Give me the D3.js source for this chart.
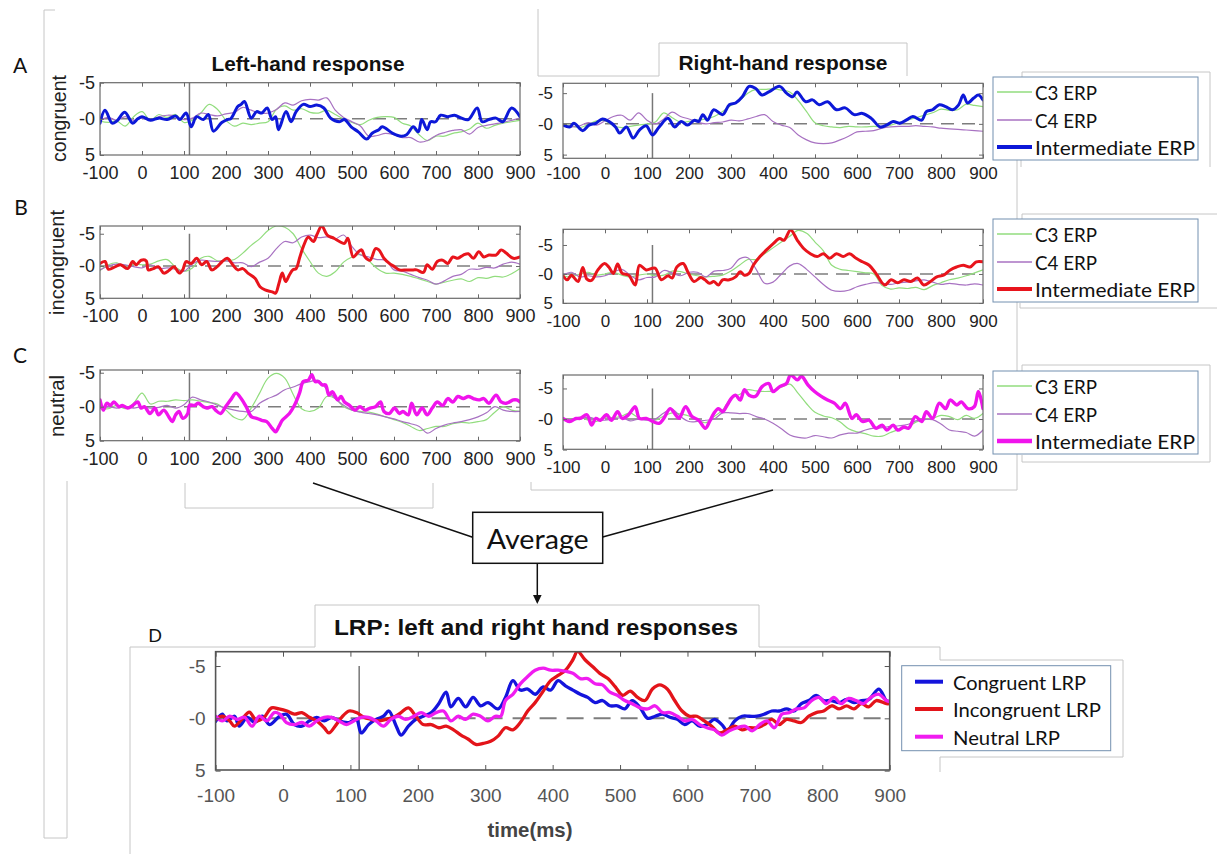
<!DOCTYPE html>
<html>
<head>
<meta charset="utf-8">
<script src="https://cdn.jsdelivr.net/npm/d3@7/dist/d3.min.js"></script>
<style>
 html,body{margin:0;padding:0;background:#fff;}
 svg{display:block;}
</style>
</head>
<body>
<svg id="fig" width="1217" height="854" xmlns="http://www.w3.org/2000/svg"></svg>
<script>
// ================= DATA =================
// sample grid (ms) for the thin C3 / C4 traces
const times = [-100,-80,-60,-40,-20,0,20,40,60,80,
  100,120,140,160,180,200,220,240,260,280,
  300,320,340,360,380,400,420,440,460,480,
  500,520,540,560,580,600,620,640,660,680,
  700,720,740,760,780,800,820,840,860,880,900];
const xTicks = [-100,0,100,200,300,400,500,600,700,800,900];
const yTicks = [-5,0,5];
const yTickLabels = ['-5','-0','5'];
const stimulusMs = 113;
const erpLegendLabels = ['C3 ERP','C4 ERP','Intermediate ERP'];
const lrpLegendLabels = ['Congruent LRP','Incongruent LRP','Neutral LRP'];
const conditionLabels = ['congruent','incongruent','neutral'];
const panelLetters = ['A','B','C','D'];

// ---- A: congruent ----
const aL_C3  = [0.3,0.5,0.3,1.0,-0.3,-1.0,0.2,-0.6,-0.2,-0.6, 0.5,0.2,-0.8,-2.0,-1.3,0.2,1.0,0.6,0.8,0.6, 0.4,-1.3,-1.8,-1.2,-1.4,-0.9,-0.8,-1.2,-0.6,0.0, 0.5,0.8,0.2,-0.2,-0.3,-0.2,0.6,1.0,2.2,3.0, 2.4,2.4,2.0,1.8,1.4,0.6,1.3,0.9,0.6,0.4, 0.2];
const aL_C4  = [0.2,-0.2,0.2,-0.3,0.2,-0.1,0.2,-0.3,-0.5,-0.4, 0.1,-0.1,-0.8,-0.6,-0.4,-0.7,-0.9,-1.6,-1.2,-0.8, -0.8,-1.3,-2.2,-1.9,-2.5,-2.7,-2.6,-2.9,-1.2,-0.2, 0.4,1.0,2.4,2.3,2.0,2.2,2.6,2.6,3.2,3.0, 2.3,1.9,1.6,1.5,2.1,1.2,0.9,0.7,0.5,0.2, -0.1];
// intermediate ERP traces: [ms, µV] pairs
const aL_Int = [[-100,0.6],[-88,-1.2],[-71,0.6],[-60,0.3],[-41,-0.9],[-22,0.6],[-10,0.0],[0,-0.3],[20,0.2],[40,-0.1],[60,0.1],[80,-0.4],[90,0.1],[105,-0.8],[117,1.1],[130,-0.3],[146,0.1],[158,-0.6],[170,1.7],[190,0.5],[203,0.1],[211,0.0],[228,-1.7],[236,-2.0],[244,-2.4],[260,-0.1],[273,-1.0],[285,-0.8],[298,-1.5],[310,0.1],[318,-0.3],[325,1.5],[343,-1.0],[355,0.4],[367,-1.0],[384,-2.0],[400,-1.7],[416,-1.9],[433,-1.5],[449,-0.1],[470,0.4],[482,0.1],[498,1.1],[515,1.8],[535,2.8],[548,2.0],[564,1.5],[572,1.1],[597,2.0],[617,2.4],[630,2.2],[646,1.1],[658,1.8],[666,0.1],[679,1.5],[687,0.4],[699,0.4],[711,-0.5],[728,-0.3],[744,-0.5],[761,-0.1],[777,0.1],[798,-1.5],[810,0.4],[826,0.1],[843,-0.1],[859,0.4],[880,-1.5],[900,-0.3]];
const aR_C3  = [0.1,0.3,0.6,0.1,-0.5,-0.5,0.3,0.6,0.4,0.2, 0.0,-0.3,-1.8,-1.0,-0.3,-0.4,-0.6,-0.8,-1.2,-2.0, -3.0,-3.8,-5.0,-5.6,-5.6,-5.7,-5.5,-5.2,-3.8,-2.0, -0.2,0.3,0.5,0.6,0.4,0.5,0.5,0.4,0.5,0.2, -0.2,-0.6,-1.0,-1.4,-1.8,-2.4,-2.2,-2.3,-3.2,-3.0, -2.8];
const aR_C4  = [0.2,0.5,0.3,-0.2,0.2,-0.5,-1.2,-1.4,-0.6,-1.8, -0.6,0.0,-0.8,-1.9,-1.2,-0.8,-0.3,0.0,-0.2,-0.3, -0.6,-0.5,-0.8,-1.2,-1.5,-0.4,0.2,0.6,1.8,2.6, 3.1,3.2,3.1,2.6,2.0,1.3,1.2,1.1,0.7,0.5, 0.4,0.4,0.3,0.4,0.5,0.7,0.8,0.9,1.0,1.1, 1.2];
const aR_Int = [[-100,0.2],[-84,0.5],[-74,-0.1],[-53,1.1],[-38,0.2],[-22,-0.1],[-6,-0.8],[9,-0.4],[25,0.5],[35,1.5],[51,0.5],[67,2.3],[82,1.0],[98,0.3],[113,1.8],[129,0.5],[150,-0.9],[166,0.5],[181,-0.4],[197,0.2],[213,-0.6],[223,-0.4],[233,-1.5],[244,-0.6],[259,-2.3],[280,-1.5],[296,-3.1],[311,-3.4],[327,-4.4],[343,-6.1],[358,-5.8],[374,-4.7],[390,-5.2],[416,-6.1],[432,-5.0],[447,-4.4],[457,-5.2],[478,-3.6],[494,-3.9],[510,-3.1],[530,-3.6],[551,-2.3],[572,-2.6],[593,-1.5],[613,-1.7],[634,-0.9],[655,0.5],[670,0.2],[686,-0.4],[702,-0.1],[717,-0.6],[733,-1.2],[754,-0.6],[765,-2.0],[780,-2.3],[796,-3.1],[811,-2.8],[827,-2.3],[842,-3.1],[853,-4.7],[863,-3.4],[878,-4.2],[889,-4.7],[900,-3.9]];

// ---- B: incongruent ----
const bL_C3  = [0.7,-0.2,-0.5,0.2,-0.3,-0.2,-0.3,-0.8,-1.0,0.2, 0.8,0.3,-1.2,-1.5,-0.8,-0.8,-1.0,-2.0,-3.2,-4.2, -5.5,-6.2,-6.0,-5.0,-2.7,-0.7,1.1,1.6,0.9,-0.6, -1.4,-1.8,-0.8,0.4,1.1,1.1,1.3,1.6,2.0,2.4, 2.8,2.5,2.2,2.0,2.4,1.8,1.9,1.6,1.7,1.2, 0.4];
const bL_C4  = [0.6,0.0,-0.3,-0.2,0.1,0.3,-0.2,0.4,0.3,0.5, 0.8,-0.3,-0.9,-0.8,-0.7,-0.8,-0.5,-0.5,0.1,-0.6, -1.2,-2.7,-3.8,-3.6,-4.5,-4.8,-4.4,-4.5,-4.2,-4.8, -3.0,-1.7,-1.4,-1.0,-0.9,0.6,0.8,1.3,1.8,2.2, 2.8,2.3,1.6,1.3,0.5,0.5,0.2,0.3,-0.3,-0.6, -0.3];
const bL_Int = [[-100,-0.4],[-88,-0.7],[-80,0.5],[-63,0.1],[-51,-0.2],[-34,0.4],[-22,-0.7],[-14,-0.2],[-2,-0.9],[10,-0.8],[15,0.6],[27,0.4],[39,0.1],[52,1.1],[64,0.7],[76,0.1],[89,1.1],[97,0.6],[105,-0.7],[117,-0.4],[130,-1.2],[142,-0.2],[154,-0.7],[166,0.6],[179,0.1],[191,-0.7],[203,-1.2],[216,-0.2],[228,0.6],[240,0.4],[252,1.1],[269,1.9],[281,3.2],[293,3.7],[310,4.0],[318,4.2],[326,2.7],[334,1.1],[342,2.4],[350,1.5],[359,0.6],[367,0.4],[375,-1.2],[384,-3.0],[396,-4.5],[408,-3.8],[416,-4.8],[428,-6.2],[441,-4.8],[457,-4.3],[470,-3.8],[482,-3.5],[490,-4.3],[503,-1.4],[515,-2.2],[523,-2.5],[531,-1.4],[543,-0.9],[556,-2.7],[564,-2.5],[576,-1.2],[589,-0.4],[601,0.1],[613,0.6],[630,0.6],[646,0.6],[654,0.6],[670,1.0],[679,-0.2],[691,0.5],[703,-0.7],[716,-0.9],[728,-0.4],[740,-1.4],[752,-1.2],[765,-1.7],[777,-1.9],[789,-1.2],[802,-2.2],[814,-1.4],[826,-1.7],[843,-1.7],[855,-2.5],[867,-2.0],[884,-1.2],[900,-1.4]];
const bR_C3  = [0.3,0.5,0.0,-0.3,0.2,0.0,-0.3,0.2,0.5,0.2, 0.0,0.3,0.2,-0.5,-0.4,0.0,0.3,0.5,0.4,0.2, -0.5,-1.5,-2.5,-2.5,-3.5,-4.5,-5.5,-6.5,-7.5,-7.0, -5.5,-4.0,-1.5,-0.8,-0.6,-0.4,-0.2,0.0,2.0,2.6, 2.4,2.5,2.3,2.7,2.0,1.5,1.0,0.7,0.3,-0.2, -0.7];
const bR_C4  = [0.2,-0.3,0.5,0.3,0.5,0.3,-0.3,-0.8,0.2,1.0, 0.6,0.5,-0.6,-0.2,0.3,-0.3,-0.3,0.5,-0.5,-0.6, -1.0,-2.6,-2.8,-0.8,1.6,1.4,0.0,-1.4,-1.8,-0.8, 0.5,1.8,2.8,3.0,2.8,2.2,1.8,1.5,1.6,1.8, 1.5,1.4,1.2,1.0,1.4,1.8,1.6,1.8,1.9,1.7, 1.9];
const bR_Int = [[-100,0.3],[-90,1.0],[-80,0.2],[-74,0.6],[-64,1.3],[-53,-1.1],[-43,0.9],[-32,1.1],[-17,-0.7],[-1,-1.8],[9,-1.2],[20,-0.1],[30,-1.7],[41,-0.1],[56,0.2],[72,1.9],[82,-1.5],[98,-0.7],[119,-1.0],[134,1.0],[150,0.3],[160,0.7],[171,-1.2],[186,-1.8],[197,-0.4],[212,1.3],[228,0.6],[238,1.0],[249,1.6],[259,1.3],[270,1.9],[280,1.0],[296,1.0],[311,0.5],[322,-0.4],[332,0.2],[343,-0.1],[353,-1.5],[369,-3.0],[384,-4.1],[400,-5.2],[416,-6.1],[426,-5.8],[442,-7.6],[458,-5.8],[473,-4.4],[489,-3.5],[505,-3.0],[520,-3.5],[535,-2.7],[551,-3.5],[567,-3.0],[582,-3.5],[598,-2.7],[613,-2.1],[629,-1.5],[645,-0.1],[666,1.9],[681,1.0],[697,1.5],[712,1.0],[728,1.3],[744,0.7],[759,1.9],[775,1.3],[790,0.5],[806,0.2],[822,-0.7],[837,-1.2],[853,-1.5],[869,-1.2],[884,-2.1],[900,-2.1]];

// ---- C: neutral ----
const cL_C3  = [0.2,0.3,-0.2,0.3,-0.5,-2.0,-0.4,-0.8,-0.8,-1.0, -0.9,-1.0,-0.8,-0.6,-0.4,0.5,1.6,1.9,0.2,-2.0, -4.2,-4.9,-4.2,-1.8,0.3,0.7,0.2,-1.5,-1.2,0.0, 0.5,0.7,0.8,1.1,1.5,1.9,2.3,2.9,3.5,3.2, 2.9,2.9,2.5,2.3,2.4,2.2,1.9,0.8,0.0,0.5, 0.7];
const cL_C4  = [0.3,0.0,0.2,0.0,0.2,0.0,0.2,0.1,-0.2,0.2, -0.3,-1.4,-1.0,-0.7,-0.2,0.2,0.5,0.7,0.7,-0.5, -1.2,-1.7,-2.5,-2.9,-3.4,-3.7,-3.9,-2.5,-1.2,-0.2, 0.5,0.8,1.0,1.2,1.5,1.8,2.2,2.5,2.9,3.9, 3.2,2.7,2.4,2.2,1.9,1.5,0.9,0.0,0.5,0.7, 0.7];
const cL_Int = [[-100,-1.0],[-92,0.5],[-84,-0.5],[-75,-0.2],[-67,-0.7],[-55,0.0],[-47,-0.2],[-34,0.2],[-22,-0.2],[-10,-0.7],[-2,0.2],[6,0.0],[19,1.0],[31,0.2],[39,1.2],[52,0.5],[64,1.5],[72,2.2],[80,1.2],[88,0.7],[97,1.7],[109,1.0],[113,-0.2],[125,-0.2],[134,-0.5],[146,0.0],[154,0.2],[167,0.0],[175,0.5],[187,1.0],[199,0.0],[211,-1.0],[224,-2.0],[236,-1.2],[248,0.0],[261,1.5],[273,1.7],[285,2.0],[297,2.2],[310,3.2],[318,3.7],[326,2.9],[334,2.0],[351,1.0],[363,-0.2],[375,-2.0],[384,-3.7],[396,-3.9],[404,-4.7],[412,-3.7],[420,-3.7],[429,-3.2],[437,-3.2],[445,-1.7],[453,-2.2],[466,-1.0],[474,-1.5],[482,-0.7],[494,-0.2],[507,0.5],[519,0.0],[531,0.5],[543,0.2],[556,0.0],[568,-0.7],[576,0.7],[589,1.0],[601,0.2],[613,1.0],[621,0.7],[634,1.2],[642,-0.5],[654,1.2],[667,0.2],[679,1.2],[691,0.2],[703,-0.7],[716,-0.2],[728,-1.2],[740,-0.7],[752,-1.5],[765,-1.2],[777,-1.5],[789,-1.2],[802,-1.0],[814,-1.2],[826,-0.5],[843,-1.7],[855,-0.7],[867,-0.5],[884,-1.0],[892,-1.0],[900,-0.7]];
const cR_C3  = [0.0,0.3,-0.3,0.2,0.4,-0.3,-0.2,-0.5,-1.0,-0.2, 0.0,0.2,-0.5,-1.0,-0.8,-0.5,0.2,0.6,-0.4,-1.5, -3.4,-4.0,-4.8,-4.6,-4.5,-4.6,-5.2,-5.7,-4.2,-2.5, -1.1,-0.5,-0.2,0.5,1.6,2.1,2.4,2.8,2.8,2.2, 1.7,1.4,0.5,0.1,-0.1,-0.6,-0.4,0.1,-0.6,-0.1, -0.9];
const cR_C4  = [0.0,0.2,0.0,-0.3,0.0,0.2,0.0,-0.2,0.3,0.0, 0.2,0.0,-1.0,-1.6,-0.4,0.4,0.4,0.2,0.0,-1.0, -1.0,-0.9,-0.9,-0.4,0.0,0.7,1.6,2.6,3.0,3.1, 2.7,2.9,3.1,2.6,2.3,2.3,1.8,1.5,1.4,1.2, 1.1,0.9,0.3,0.1,0.1,0.8,1.8,2.0,2.2,2.8, 1.8];
const cR_Int = [[-100,-0.1],[-84,0.4],[-69,-0.1],[-59,-0.1],[-43,-0.7],[-32,1.0],[-22,-0.1],[-11,0.2],[4,-0.7],[15,0.2],[30,-1.2],[41,-0.1],[56,-0.7],[72,-2.0],[82,-0.1],[98,-0.1],[114,0.4],[129,0.7],[140,-0.1],[155,-1.7],[166,-0.9],[176,-0.1],[192,-2.0],[207,-0.4],[223,0.2],[239,1.5],[249,0.4],[259,-0.9],[270,-1.7],[280,-1.2],[291,-2.3],[301,-3.4],[311,-3.9],[322,-3.1],[332,-4.8],[343,-3.9],[358,-3.7],[374,-5.3],[390,-5.8],[400,-4.5],[416,-5.3],[432,-5.8],[442,-7.2],[458,-6.4],[468,-7.0],[483,-5.6],[499,-4.5],[515,-3.7],[530,-3.1],[546,-2.6],[561,-1.7],[572,-2.6],[588,-0.1],[598,-0.7],[613,0.4],[629,0.2],[645,1.5],[660,1.0],[671,1.8],[686,1.0],[697,1.8],[712,1.3],[723,1.5],[739,-0.4],[754,0.4],[765,-1.2],[780,-0.1],[796,-2.6],[811,-1.7],[822,-3.1],[838,-2.3],[848,-2.8],[864,-1.7],[879,-2.0],[889,-4.5],[900,-1.7]];

// ---- D: LRP averages, [ms, µV] ----
const dCongruent = [[-100,0.3],[-90,-0.4],[-83,0.25],[-72,-0.2],[-65,0.75],[-53,-0.1],[-42,0.4],[-31,-0.2],[-20,0.6],[-5,-0.2],[5,-0.4],[17,0.6],[28,0.75],[39,0.25],[50,-0.1],[61,0.25],[72,-0.1],[83,0.25],[98,0.4],[109,0.1],[116,1.4],[127,0.6],[138,0.1],[149,-0.2],[157,-0.7],[168,0.75],[175,1.6],[186,0.75],[197,0.1],[208,-0.2],[220,-0.55],[231,-1.4],[242,-2.5],[249,-1.1],[260,-1.9],[271,-1.1],[282,-2.0],[293,-1.2],[304,-1.5],[319,-0.9],[330,-2.0],[341,-3.6],[352,-2.7],[363,-2.8],[374,-2.3],[386,-3.0],[397,-2.7],[408,-3.6],[419,-3.1],[430,-2.7],[441,-2.3],[452,-2.0],[463,-1.5],[474,-1.7],[485,-1.2],[496,-1.2],[507,-0.9],[518,-1.7],[530,-1.0],[541,0.0],[552,-0.2],[563,-0.4],[574,-0.1],[585,0.1],[596,0.6],[607,0.25],[618,0.75],[629,0.6],[640,0.1],[651,0.6],[659,1.2],[670,0.25],[681,-0.2],[692,-0.2],[703,-0.2],[714,-0.4],[725,-0.7],[736,-0.7],[747,-0.9],[758,-0.7],[769,-1.4],[780,-1.7],[791,-2.2],[802,-1.7],[813,-1.7],[825,-1.5],[836,-1.8],[847,-1.5],[858,-1.7],[869,-1.8],[884,-2.8],[895,-1.7],[900,-1.6]];
const dIncongruent = [[-100,0.1],[-90,-0.2],[-79,0.25],[-72,0.75],[-61,0.1],[-50,-0.6],[-39,0.25],[-28,-0.1],[-17,-1.0],[-6,-0.9],[6,-0.7],[17,-0.4],[28,-0.55],[39,-0.1],[50,0.25],[61,0.9],[68,1.4],[79,0.6],[87,-0.1],[98,-0.7],[109,-0.55],[120,-0.1],[131,0.1],[142,0.25],[153,0.1],[164,-0.1],[175,-0.55],[186,-1.0],[197,-0.2],[208,0.6],[220,0.6],[231,0.9],[242,0.75],[253,1.1],[264,1.6],[275,2.0],[286,2.5],[297,2.4],[308,2.2],[319,1.7],[330,0.9],[341,1.1],[352,0.4],[363,-0.7],[374,-1.5],[386,-2.6],[397,-3.6],[408,-4.1],[419,-4.6],[430,-5.6],[437,-6.4],[448,-5.6],[460,-4.9],[470,-4.3],[482,-3.8],[493,-3.0],[504,-2.2],[515,-2.6],[526,-2.0],[537,-1.7],[548,-2.8],[559,-3.2],[570,-2.8],[581,-1.7],[592,-0.7],[603,-0.2],[614,-0.2],[625,0.25],[636,0.75],[647,1.4],[659,1.1],[670,0.75],[681,1.1],[692,0.9],[703,0.9],[714,0.6],[725,0.1],[736,0.6],[747,0.1],[758,0.25],[769,0.4],[780,-0.2],[791,-0.55],[802,-0.7],[814,-1.2],[825,-0.9],[836,-1.2],[847,-0.9],[858,-1.4],[869,-1.1],[880,-1.7],[895,-1.4],[900,-1.4]];
const dNeutral = [[-100,-0.2],[-90,0.25],[-79,-0.2],[-68,0.1],[-57,-0.1],[-46,0.75],[-35,-0.2],[-24,0.25],[-13,-0.55],[-5,-0.4],[5,0.4],[17,0.6],[28,0.4],[39,0.75],[50,0.25],[61,-0.1],[72,-0.1],[83,0.25],[94,0.6],[105,0.25],[116,-0.1],[127,-0.1],[138,0.25],[149,0.75],[160,0.1],[171,-0.2],[182,0.1],[194,-0.2],[205,-0.55],[216,-0.2],[227,-0.55],[238,-0.7],[249,0.25],[260,-0.2],[271,0.1],[282,-0.4],[293,-0.2],[304,0.25],[315,-0.2],[323,-0.2],[330,-1.7],[341,-2.3],[352,-3.3],[363,-4.0],[374,-4.6],[386,-4.8],[397,-4.6],[408,-4.6],[419,-4.5],[430,-4.3],[441,-3.8],[452,-3.8],[463,-3.3],[474,-3.2],[485,-2.5],[496,-2.2],[507,-1.7],[518,-1.4],[530,-1.0],[541,-0.9],[552,-1.2],[563,-0.55],[574,-0.55],[585,-0.2],[596,0.25],[607,0.1],[618,0.6],[629,0.9],[640,1.1],[651,1.6],[662,1.2],[674,0.9],[685,0.75],[696,1.2],[707,0.6],[718,0.25],[729,0.9],[740,-0.4],[751,-0.55],[762,-0.9],[773,-1.0],[784,-1.7],[795,-2.0],[806,-1.4],[817,-2.0],[828,-1.4],[839,-1.9],[850,-1.7],[861,-1.4],[872,-2.0],[884,-2.3],[895,-1.7],[900,-1.6]];

// ================= STYLE / LAYOUT =================
const SANS = "'Liberation Sans', Arial, Helvetica, sans-serif";
const HUM = "Lato, 'Open Sans', 'Noto Sans', sans-serif";
const FRAME = '#c6c6c6';
const C3col = '#92dd7e', C4col = '#a872c2';
const BLUE = '#0c18d8', RED = '#e8141c', MAG = '#f014ec';

const svg = d3.select('#fig');
const defs = svg.append('defs');
svg.append('rect').attr('width',1217).attr('height',854).attr('fill','#fff');

// decorative frame lines of the composed figure
const frameLines = [
  [[55,10],[44,10],[44,838],[67,838],[67,481]],
  [[185,483],[185,508],[433,508],[433,483]],
  [[538,9],[538,76],[659,76],[659,43],[907,43],[907,76]],
  [[1022,77],[1022,72],[1210,72],[1210,167]],
  [[1021,160],[1021,167]],
  [[1022,157],[1017,157],[1017,220],[1022,220]],
  [[1022,219],[1022,214],[1217,214]],
  [[1020,303],[1020,308],[1217,308]],
  [[1022,290],[1017,290],[1017,373],[1022,373]],
  [[1022,371],[1022,365],[1210,365],[1210,462],[1022,462],[1022,455]],
  [[1022,450],[1017,450],[1017,490],[531,490],[531,482]],
  [[130,854],[130,647],[315,647],[315,605],[759,605],[759,647],[940,647],[940,660],[1123,660],[1123,757],[940,757],[940,772]]
];
const lineGen = d3.line();
frameLines.forEach(pts => svg.append('path').attr('d', lineGen(pts))
  .attr('fill','none').attr('stroke',FRAME).attr('stroke-width',1));

const onGrid = vals => vals.map((v,i) => [times[i], v]);

function drawPanel(p){
  const x = d3.scaleLinear().domain([-100,900]).range([p.x0,p.x1]);
  const y = d3.scaleLinear().domain(p.vdom).range([p.y0,p.y1]);
  const g = svg.append('g');
  const cid = 'clip-' + p.id;
  defs.append('clipPath').attr('id',cid).append('rect')
    .attr('x',p.x0).attr('y',p.y0).attr('width',p.x1-p.x0).attr('height',p.y1-p.y0);
  g.append('rect').attr('x',p.x0).attr('y',p.y0).attr('width',p.x1-p.x0).attr('height',p.y1-p.y0).attr('fill','#fff');
  g.append('line').attr('x1',x(-100)).attr('x2',x(900)).attr('y1',y(0)).attr('y2',y(0))
    .attr('stroke','#7d7d7d').attr('stroke-width',p.dashW).attr('stroke-dasharray',p.dash);
  g.append('line').attr('x1',x(stimulusMs)).attr('x2',x(stimulusMs))
    .attr('y1',Math.max(y(-5),p.y0)).attr('y2',p.y1)
    .attr('stroke','#777').attr('stroke-width',1.5);
  const line = d3.line().x(d=>x(d[0])).y(d=>y(d[1])).curve(d3.curveCatmullRom.alpha(0.5));
  p.series.forEach(s => {
    g.append('path').datum(s.values).attr('d',line)
      .attr('clip-path',`url(#${cid})`)
      .attr('fill','none').attr('stroke',s.color).attr('stroke-width',s.width)
      .attr('stroke-linejoin','round').attr('stroke-linecap','round');
  });
  const styleAxis = (sel, fs) => {
    sel.attr('font-family',SANS).attr('font-size',fs);
    sel.select('.domain').remove();
    sel.selectAll('.tick line').attr('stroke',p.boxCol).attr('stroke-width',1);
    sel.selectAll('.tick text').attr('fill',p.labCol);
  };
  g.append('g').attr('transform',`translate(0,${p.y1})`)
    .call(d3.axisBottom(x).tickValues(xTicks).tickFormat(d=>String(d))
      .tickSizeInner(-p.tick).tickSizeOuter(0).tickPadding(p.xoff - 0.352*p.fs))
    .call(styleAxis, p.fs);
  g.append('g').attr('transform',`translate(0,${p.y0})`)
    .call(d3.axisTop(x).tickValues(xTicks).tickFormat('').tickSizeInner(-p.tick).tickSizeOuter(0))
    .call(styleAxis, p.fs);
  g.append('g').attr('transform',`translate(${p.x0},0)`)
    .call(d3.axisLeft(y).tickValues(yTicks).tickFormat((d,i)=>yTickLabels[i])
      .tickSizeInner(-p.tick).tickSizeOuter(0).tickPadding(p.ypad))
    .call(styleAxis, p.yfs || p.fs);
  g.append('g').attr('transform',`translate(${p.x1},0)`)
    .call(d3.axisRight(y).tickValues(yTicks).tickFormat('').tickSizeInner(-p.tick).tickSizeOuter(0))
    .call(styleAxis, p.fs);
  g.append('rect').attr('x',p.x0).attr('y',p.y0).attr('width',p.x1-p.x0).attr('height',p.y1-p.y0)
    .attr('fill','none').attr('stroke',p.boxCol).attr('stroke-width',p.boxW);
}

const erpSeries = (c3, c4, inter, col, w) => [
  {values:onGrid(c3), color:C3col, width:1.2},
  {values:onGrid(c4), color:C4col, width:1.2},
  {values:inter, color:col, width:w}
];
const base = {fs:18, tick:4, boxCol:'#6a6a6a', boxW:1.2, labCol:'#222', dash:'13,8', dashW:1.5};
const panels = [
  Object.assign({}, base, {id:'AL', x0:100, x1:520, y0:82.7, y1:155,   vdom:[-5,5],     xoff:17.5, ypad:5, series:erpSeries(aL_C3,aL_C4,aL_Int,BLUE,3)}),
  Object.assign({}, base, {id:'BL', x0:100, x1:520, y0:226,  y1:298.3, vdom:[-6.2,5],   xoff:17.5, ypad:5, series:erpSeries(bL_C3,bL_C4,bL_Int,RED,3)}),
  Object.assign({}, base, {id:'CL', x0:100, x1:520, y0:370,  y1:440.7, vdom:[-5.4,5],   xoff:17.5, ypad:5, series:erpSeries(cL_C3,cL_C4,cL_Int,MAG,3.4)}),
  Object.assign({}, base, {id:'AR', x0:563, x1:983, y0:83.3, y1:158.3, vdom:[-6.6,5.6], xoff:14.5, ypad:10, fs:17, yfs:17, series:erpSeries(aR_C3,aR_C4,aR_Int,BLUE,3)}),
  Object.assign({}, base, {id:'BR', x0:563, x1:983, y0:229.3,y1:303.3, vdom:[-7.7,5.05],xoff:17.5, ypad:10, fs:17, yfs:17, series:erpSeries(bR_C3,bR_C4,bR_Int,RED,3)}),
  Object.assign({}, base, {id:'CR', x0:563, x1:983, y0:375,  y1:449.3, vdom:[-7.2,4.95],xoff:18,   ypad:10, fs:17, yfs:17, series:erpSeries(cR_C3,cR_C4,cR_Int,MAG,3.4)}),
  Object.assign({}, base, {id:'D',  x0:215.6, x1:889.7, y0:651.7, y1:770, vdom:[-6.37,4.94], xoff:25, ypad:10, fs:19, tick:5,
     boxCol:'#555', boxW:1.6, labCol:'#555', dash:'17,10', dashW:2,
     series:[{values:dCongruent,color:'#1414dc',width:3.3},{values:dIncongruent,color:'#e3141a',width:3.3},{values:dNeutral,color:'#f01cf0',width:3.3}]})
];
panels.forEach(drawPanel);

// ---- texts ----
function txt(s, x, y, o){
  const t = svg.append('text').attr('x',x).attr('y',y).text(s)
    .attr('font-family',o.ff||SANS).attr('font-size',o.fs).attr('fill',o.fill||'#111')
    .attr('text-anchor',o.anchor||'middle').attr('dominant-baseline','central');
  if(o.bold) t.attr('font-weight','bold');
  if(o.len) t.attr('textLength',o.len).attr('lengthAdjust','spacingAndGlyphs');
  if(o.rot) t.attr('transform',`rotate(${o.rot},${x},${y})`);
  return t;
}
txt(panelLetters[0], 20, 64, {ff:HUM, fs:21});
txt(panelLetters[1], 21, 206, {ff:HUM, fs:21});
txt(panelLetters[2], 20, 354, {ff:HUM, fs:21});
txt(panelLetters[3], 155, 635, {ff:HUM, fs:18});
txt('Left-hand response', 308, 63, {fs:21, bold:true, len:193});
txt('Right-hand response', 783, 62, {fs:21, bold:true, len:209});
txt('LRP: left and right hand responses', 536, 627, {fs:22, bold:true, len:404});
txt(conditionLabels[0], 59, 118.5, {fs:19.5, rot:-90, len:87, fill:'#222'});
txt(conditionLabels[1], 57, 262.5, {fs:19.5, rot:-90, len:105, fill:'#222'});
txt(conditionLabels[2], 57, 406, {fs:19.5, rot:-90, len:62, fill:'#222'});
txt('time(ms)', 530, 830, {fs:20, bold:true, fill:'#444', len:85});

// ---- ERP legends ----
const erpLegendWidths = [62, 62, 160];
function erpLegend(top, interCol, interW){
  svg.append('rect').attr('x',993).attr('y',top).attr('width',205).attr('height',83)
    .attr('fill','#fff').attr('stroke','#7390b0').attr('stroke-width',1);
  const cols = [C3col, C4col, interCol];
  const ws = [1.6, 1.6, interW];
  const dy = [15, 43, 70];
  erpLegendLabels.forEach((lab,i) => {
    svg.append('line').attr('x1',997).attr('x2',1032).attr('y1',top+dy[i]).attr('y2',top+dy[i])
      .attr('stroke',cols[i]).attr('stroke-width',ws[i]);
    txt(lab, 1035, top+dy[i], {ff:HUM, fs:20, anchor:'start', len:erpLegendWidths[i]});
  });
}
erpLegend(77, BLUE, 4);
erpLegend(219, RED, 4);
erpLegend(371, MAG, 4.5);

// ---- LRP legend ----
const lrpLegendWidths = [133, 148, 107];
svg.append('rect').attr('x',901.7).attr('y',665.7).attr('width',209).attr('height',85)
  .attr('fill','#fff').attr('stroke','#7390b0').attr('stroke-width',1);
const lrpCols = ['#1414dc','#e3141a','#f01cf0'];
[16, 43.3, 71].forEach((dy,i) => {
  svg.append('line').attr('x1',915).attr('x2',943).attr('y1',665.7+dy).attr('y2',665.7+dy)
    .attr('stroke',lrpCols[i]).attr('stroke-width',4);
  txt(lrpLegendLabels[i], 953, 665.7+dy, {ff:HUM, fs:20, anchor:'start', len:lrpLegendWidths[i]});
});

// ---- Average box & connectors ----
svg.append('line').attr('x1',313).attr('y1',483).attr('x2',472.7).attr('y2',537.3).attr('stroke','#111').attr('stroke-width',1.5);
svg.append('line').attr('x1',602.7).attr('y1',537).attr('x2',773).attr('y2',490).attr('stroke','#111').attr('stroke-width',1.5);
svg.append('rect').attr('x',472.7).attr('y',512.3).attr('width',130).attr('height',51).attr('fill','#fff').attr('stroke','#111').attr('stroke-width',1.5);
txt('Average', 537.7, 538, {ff:HUM, fs:27, len:102});
svg.append('line').attr('x1',537.3).attr('y1',563.3).attr('x2',537.3).attr('y2',596).attr('stroke','#111').attr('stroke-width',1.5);
svg.append('path').attr('d', d3.line()([[533,595],[541.6,595],[537.3,604]]) + 'Z').attr('fill','#111');
</script>
</body>
</html>
